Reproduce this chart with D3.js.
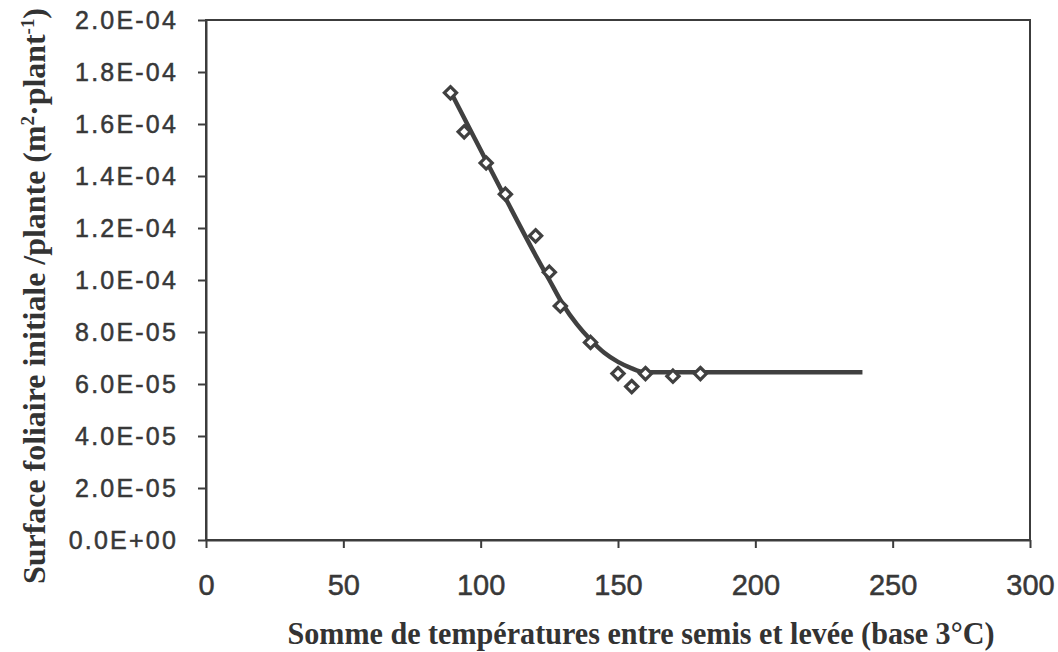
<!DOCTYPE html>
<html>
<head>
<meta charset="utf-8">
<title>Surface foliaire initiale</title>
<script src="https://d3js.org/d3.v7.min.js"></script>
<style>
  body { margin: 0; background: #fff; }
  .axis path, .axis line { fill: none; stroke: #3c3c3c; stroke-width: 2; }
  .yaxis text { font-family: "Liberation Sans", Arial, sans-serif; font-size: 25px; fill: #383838; stroke: #383838; stroke-width: 0.5; letter-spacing: 2.2px; }
  .xaxis text { font-family: "Liberation Sans", Arial, sans-serif; font-size: 29px; fill: #383838; stroke: #383838; stroke-width: 0.5; }
  .title { font-family: "Liberation Serif", "Times New Roman", serif; font-weight: bold; fill: #333; }
</style>
</head>
<body>
<script>
// observed points: temperature sum (degree-days) and initial leaf area per plant (m2)
var temps = [89, 94, 102, 109, 120, 125, 129, 140, 150, 155, 160, 170, 180];
var surfaces = [1.72e-4, 1.57e-4, 1.45e-4, 1.33e-4, 1.17e-4, 1.03e-4, 0.90e-4, 0.76e-4, 0.64e-4, 0.59e-4, 0.64e-4, 0.63e-4, 0.64e-4];

// fitted curve
var fitX = [89, 100, 110, 120, 125, 130, 135, 140, 145, 150, 155, 158, 160, 239];
var fitY = [1.725e-4, 1.50e-4, 1.295e-4, 1.095e-4, 1.0e-4, 0.905e-4, 0.83e-4, 0.77e-4, 0.72e-4, 0.685e-4, 0.66e-4, 0.648e-4, 0.645e-4, 0.645e-4];

var xTicks = [0, 50, 100, 150, 200, 250, 300];
var yTicks = [0, 2e-5, 4e-5, 6e-5, 8e-5, 1e-4, 1.2e-4, 1.4e-4, 1.6e-4, 1.8e-4, 2e-4];

var width = 1058, height = 652;
var padding = {left: 206, right: 28, top: 20, bottom: 112};
var innerW = width - padding.left - padding.right;
var innerH = height - padding.top - padding.bottom;

var svg = d3.select("body").append("svg")
    .attr("width", width)
    .attr("height", height);

var xScale = d3.scaleLinear().domain([0, 300]).range([0, innerW]);
var yScale = d3.scaleLinear().domain([0, 2e-4]).range([innerH, 0]);

var g = svg.append("g")
    .attr("transform", "translate(" + padding.left + "," + padding.top + ")");

// plot area frame
g.append("rect")
    .attr("x", 0).attr("y", 0)
    .attr("width", innerW).attr("height", innerH)
    .attr("fill", "none")
    .attr("stroke", "#3c3c3c")
    .attr("stroke-width", 2);

var yAxis = d3.axisLeft(yScale)
    .tickValues(yTicks)
    .tickSize(8)
    .tickSizeOuter(0)
    .tickFormat(function(d){
        var s = d.toExponential(1).toUpperCase();   // 2.0E-4
        return s.replace(/E([+-])(\d)$/, "E$10$2");
    });

var xAxis = d3.axisBottom(xScale)
    .tickValues(xTicks)
    .tickSize(8)
    .tickSizeOuter(0)
    .tickFormat(d3.format("d"));

var gy = g.append("g").attr("class", "axis yaxis").call(yAxis);
gy.selectAll("text").attr("x", -28).attr("dy", "0.35em");

var gx = g.append("g").attr("class", "axis xaxis")
    .attr("transform", "translate(0," + innerH + ")")
    .call(xAxis);
gx.selectAll("text").attr("y", 55).attr("dy", 0);

// fitted line
var line = d3.line()
    .x(function(d, i){ return xScale(fitX[i]); })
    .y(function(d, i){ return yScale(fitY[i]); })
    .curve(d3.curveMonotoneX);

g.append("path")
    .datum(fitX)
    .attr("d", line)
    .attr("fill", "none")
    .attr("stroke", "#404040")
    .attr("stroke-width", 4.5)
    .attr("stroke-linejoin", "round");

// observed points as open diamonds
var diamond = d3.symbol().type(d3.symbolDiamond2).size(95);
g.selectAll(".pt")
    .data(temps)
    .enter()
    .append("path")
    .attr("class", "pt")
    .attr("d", diamond)
    .attr("transform", function(d, i){
        return "translate(" + xScale(d) + "," + yScale(surfaces[i]) + ")";
    })
    .attr("fill", "#fff")
    .attr("stroke", "#404040")
    .attr("stroke-width", 3.2);

// x title
svg.append("text")
    .attr("class", "title")
    .attr("x", 641)
    .attr("y", 644)
    .attr("text-anchor", "middle")
    .attr("font-size", 32)
    .attr("textLength", 707)
    .attr("lengthAdjust", "spacingAndGlyphs")
    .text("Somme de températures entre semis et levée (base 3°C)");

// y title
var yt = svg.append("text")
    .attr("class", "title")
    .attr("transform", "translate(45,296) rotate(-90)")
    .attr("text-anchor", "middle")
    .attr("font-size", 32)
    .attr("textLength", 576)
    .attr("lengthAdjust", "spacingAndGlyphs");
yt.append("tspan").text("Surface foliaire initiale /plante (m");
yt.append("tspan").attr("dy", -11).attr("font-size", 19).text("2");
yt.append("tspan").attr("dy", 11).text("·plant");
yt.append("tspan").attr("dy", -11).attr("font-size", 19).text("-1");
yt.append("tspan").attr("dy", 11).text(")");
</script>
</body>
</html>
